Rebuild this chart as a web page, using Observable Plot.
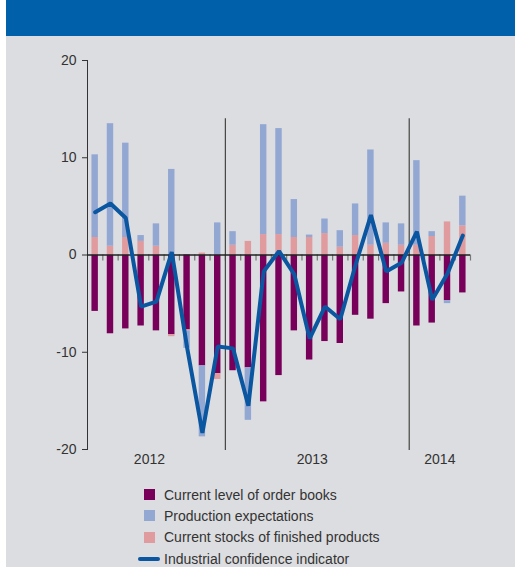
<!DOCTYPE html>
<html>
<head>
<meta charset="utf-8">
<script src="https://cdn.jsdelivr.net/npm/d3@7"></script>
<script src="https://cdn.jsdelivr.net/npm/@observablehq/plot@0.6"></script>
<style>
  html, body { margin: 0; padding: 0; background: #ffffff; }
  #wrap { position: absolute; left: 6px; top: 0; width: 509px; height: 567px; background: #dcdde0; overflow: hidden;
          font-family: "Liberation Sans", Arial, sans-serif; color: #333; }
  #head { height: 36px; background: #0060aa; }
  #legend { position: absolute; left: 132px; top: 484px; font-size: 14px; }
  .row { display: flex; align-items: center; height: 21.3px; white-space: nowrap; }
  .sw { width: 26px; height: 21px; position: relative; }
  .sq { position: absolute; left: 6px; top: 5px; width: 11px; height: 11px; }
  .ln { position: absolute; left: 0; top: 8.5px; width: 22px; height: 4px; border-radius: 2px; }
</style>
</head>
<body>
<div id="wrap">
  <div id="head"></div>
  <div id="chart"></div>
  <div id="legend"></div>
</div>
<script>
const months = [
  "Apr 2012","May 2012","Jun 2012","Jul 2012","Aug 2012","Sep 2012","Oct 2012","Nov 2012","Dec 2012",
  "Jan 2013","Feb 2013","Mar 2013","Apr 2013","May 2013","Jun 2013","Jul 2013","Aug 2013","Sep 2013","Oct 2013","Nov 2013","Dec 2013",
  "Jan 2014","Feb 2014","Mar 2014","Apr 2014"
];
const orderBooks = [-5.8,-8.1,-7.6,-7.3,-7.8,-8.2,-7.7,-11.4,-12.2,-11.9,-11.6,-15.1,-12.4,-7.8,-10.8,-8.9,-9.1,-6.2,-6.6,-5.0,-3.8,-7.3,-7.0,-4.7,-3.9];
const stocks = [1.8,0.9,1.8,1.4,0.9,-0.2,-0.1,0.2,-0.6,1.0,1.4,2.1,2.1,1.8,1.8,2.2,0.8,2.0,1.0,1.2,1.0,1.0,1.9,3.4,3.0];
const production = [8.5,12.6,9.7,0.6,2.3,8.8,-1.8,-7.3,3.3,1.4,-5.4,11.3,10.9,3.9,0.25,1.5,1.7,3.25,9.8,2.1,2.2,8.7,0.5,-0.3,3.05];
const confidence = [4.4,5.3,3.8,-5.3,-4.8,0.3,-9.5,-18.3,-9.4,-9.6,-15.5,-1.7,0.4,-2.0,-8.6,-5.3,-6.6,-1.0,4.1,-1.7,-0.8,2.4,-4.6,-1.9,2.0];
const years = ["2012","2013","2014"];
const yTicks = [-20,-10,0,10,20];
const seriesNames = ["Current level of order books","Production expectations","Current stocks of finished products","Industrial confidence indicator"];
const colors = {
  "Current level of order books": "#78005a",
  "Production expectations": "#93a7d3",
  "Current stocks of finished products": "#e09b9e",
  "Industrial confidence indicator": "#0a56a0"
};

// stacking order: order books, stocks, production
const table = months.flatMap((m, i) => [
  {i, month: m, series: seriesNames[0], value: orderBooks[i]},
  {i, month: m, series: seriesNames[2], value: stocks[i]},
  {i, month: m, series: seriesNames[1], value: production[i]}
]);
const lineData = months.map((m, i) => ({i, month: m, value: confidence[i]}));
const yearStarts = months.map((m, i) => m.startsWith("Jan") ? i : null).filter(d => d !== null);
const yearCenter = y => d3.mean(months.map((m, i) => m.endsWith(y) ? i + 0.5 : null).filter(d => d !== null));
const boundaries = d3.range(1, months.length + 1);
const half = 0.21;
const labelDx = [-7, -5, 0];

const plot = Plot.plot({
  width: 509,
  height: 440,
  marginLeft: 81,
  marginRight: 45,
  marginTop: 24,
  marginBottom: 27,
  style: {background: "transparent", fontSize: "14px", fontFamily: "Liberation Sans, Arial, sans-serif", color: "#333"},
  x: {domain: [0, months.length], axis: null},
  y: {domain: [-20, 20], ticks: yTicks, tickSize: 5, tickPadding: 6, line: true, label: null, tickFormat: d => String(d)},
  color: {domain: Object.keys(colors), range: Object.values(colors)},
  marks: [
    Plot.ruleX(boundaries, {x: d => d, y1: 0, y2: -0.62, stroke: "#777", strokeWidth: 1.2}),
    Plot.rectY(table, {x1: d => d.i + 0.5 - half, x2: d => d.i + 0.5 + half, y: "value", fill: "series"}),
    Plot.ruleX(yearStarts, {x: d => d, y1: -20.1, y2: 14, stroke: "#444", strokeWidth: 1.2}),
    Plot.ruleY([0], {stroke: "#222", strokeWidth: 1.3}),
    Plot.line(lineData, {x: d => d.i + 0.5, y: "value", stroke: colors[seriesNames[3]], strokeWidth: 4, strokeLinejoin: "miter"}),
    ...years.map((y, k) => Plot.text([y], {x: () => yearCenter(y), y: () => -20, text: d => d, dy: 10, dx: labelDx[k], fill: "#333", fontSize: 14}))
  ]
});
document.getElementById("chart").appendChild(plot);

const legend = document.getElementById("legend");
seriesNames.forEach((name, k) => {
  const row = document.createElement("div");
  row.className = "row";
  const sw = document.createElement("div");
  sw.className = "sw";
  const mark = document.createElement("div");
  mark.className = k === 3 ? "ln" : "sq";
  mark.style.background = colors[name];
  sw.appendChild(mark);
  const label = document.createElement("span");
  label.textContent = name;
  row.appendChild(sw);
  row.appendChild(label);
  legend.appendChild(row);
});
</script>
</body>
</html>
